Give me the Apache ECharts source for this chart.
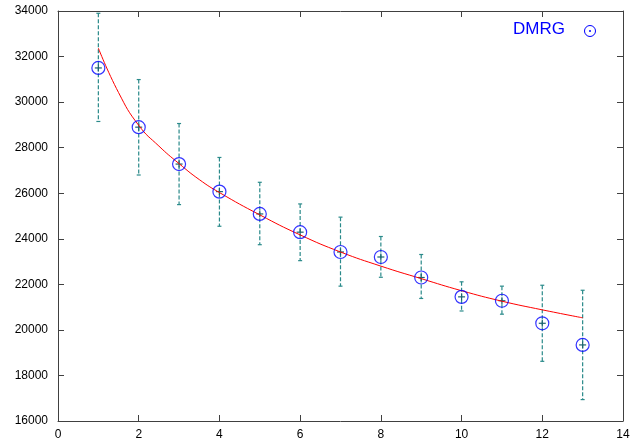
<!DOCTYPE html>
<html>
<head>
<meta charset="utf-8">
<script src="https://cdn.jsdelivr.net/npm/echarts@6/dist/echarts.min.js"></script>
<style>
  html, body { margin: 0; padding: 0; background: #fff; }
  #chart { width: 633px; height: 441px; }
</style>
</head>
<body>
<div id="chart"></div>
<script>
// data
const xs = [1, 2, 3, 4, 5, 6, 7, 8, 9, 10, 11, 12, 13];
const dmrg = [31500, 28900, 27280, 26070, 25090, 24290, 23420, 23200, 22300, 21450, 21280, 20290, 19340];
const errHigh = [33900, 30990, 29060, 27570, 26480, 25530, 24950, 24100, 23310, 22110, 21920, 21960, 21740];
const errLow = [29150, 26800, 25500, 24550, 23740, 23040, 21920, 22310, 21380, 20830, 20690, 18620, 16940];
// red fit curve, read at these x positions
const fitX = [1, 1.5, 2, 2.5, 3, 3.5, 4, 5, 6, 7, 8, 9, 10, 11, 12, 13];
const fitY = [32370, 30420, 28980, 28070, 27300, 26600, 26030, 25050, 24170, 23420, 22800, 22250, 21720, 21260, 20880, 20530];
const xTicks = [0, 2, 4, 6, 8, 10, 12, 14];
const yTicks = [16000, 18000, 20000, 22000, 24000, 26000, 28000, 30000, 32000, 34000];

document.addEventListener('DOMContentLoaded', function() {
  const chart = echarts.init(document.getElementById('chart'));
  const errColor = '#2a8a8a';
  const axisCol = '#404040';
  const labelFont = { color: '#000', fontSize: 12, fontFamily: 'Liberation Sans' };

  const errData = xs.map(function(x, i) { return [x, errLow[i], errHigh[i], dmrg[i]]; });

  const baseAxis = {
    type: 'value',
    axisLine: { show: true, onZero: false, lineStyle: { color: axisCol, width: 1 } },
    axisTick: { show: true, inside: true, length: 6, lineStyle: { color: axisCol } },
    splitLine: { show: false }
  };

  const option = {
    animation: false,
    backgroundColor: '#fff',
    grid: { left: 58, right: 10, top: 11, bottom: 18 },
    xAxis: [
      Object.assign({}, baseAxis, {
        min: xTicks[0], max: xTicks[xTicks.length - 1], interval: 2, position: 'bottom',
        axisLabel: Object.assign({ margin: 8 }, labelFont)
      }),
      Object.assign({}, baseAxis, {
        min: xTicks[0], max: xTicks[xTicks.length - 1], interval: 2, position: 'top',
        axisLabel: { show: false }
      })
    ],
    yAxis: [
      Object.assign({}, baseAxis, {
        min: yTicks[0], max: yTicks[yTicks.length - 1], interval: 2000, position: 'left',
        axisLabel: Object.assign({ margin: 10, formatter: function(v) { return String(v); } }, labelFont)
      }),
      Object.assign({}, baseAxis, {
        min: yTicks[0], max: yTicks[yTicks.length - 1], interval: 2000, position: 'right',
        axisLabel: { show: false }
      })
    ],
    graphic: [
      { type: 'text', right: 633 - 565, top: 21,
        style: { text: 'DMRG', fill: '#0000ff', fontSize: 17, fontFamily: 'Liberation Sans' } },
      { type: 'circle', shape: { cx: 590, cy: 31, r: 5.5 },
        style: { fill: 'none', stroke: '#0000ff', lineWidth: 1 } },
      { type: 'circle', shape: { cx: 590, cy: 31, r: 1 },
        style: { fill: '#0000ff' } }
    ],
    series: [
      {
        name: 'errors',
        type: 'custom',
        data: errData,
        z: 2,
        renderItem: function(params, api) {
          const lo = api.coord([api.value(0), api.value(1)]);
          const hi = api.coord([api.value(0), api.value(2)]);
          const c = api.coord([api.value(0), api.value(3)]);
          const cap = 2;
          const ps = 3.5;
          return {
            type: 'group',
            children: [
              { type: 'line', shape: { x1: hi[0], y1: hi[1], x2: lo[0], y2: lo[1] },
                style: { stroke: errColor, lineWidth: 1.2, lineDash: [4, 2] } },
              { type: 'line', shape: { x1: hi[0] - cap, y1: hi[1], x2: hi[0] + cap, y2: hi[1] },
                style: { stroke: errColor, lineWidth: 1.2 } },
              { type: 'line', shape: { x1: lo[0] - cap, y1: lo[1], x2: lo[0] + cap, y2: lo[1] },
                style: { stroke: errColor, lineWidth: 1.2 } },
              { type: 'line', shape: { x1: c[0] - ps, y1: c[1], x2: c[0] + ps, y2: c[1] },
                style: { stroke: '#1d6470', lineWidth: 1.2 } },
              { type: 'line', shape: { x1: c[0], y1: c[1] - ps, x2: c[0], y2: c[1] + ps },
                style: { stroke: '#1d6470', lineWidth: 1.2 } }
            ]
          };
        }
      },
      {
        name: 'fit',
        type: 'line',
        data: fitX.map(function(x, i) { return [x, fitY[i]]; }),
        smooth: true,
        showSymbol: false,
        symbol: 'none',
        z: 3,
        lineStyle: { color: '#ff0000', width: 1 }
      },
      {
        name: 'DMRG',
        type: 'scatter',
        data: xs.map(function(x, i) { return [x, dmrg[i]]; }),
        symbol: 'circle',
        symbolSize: 13,
        z: 4,
        itemStyle: { color: 'rgba(0,0,0,0)', borderColor: '#0000ff', borderWidth: 1.2 }
      }
    ]
  };
  chart.setOption(option);
  window.addEventListener('resize', function() { chart.resize(); });
});
</script>
</body>
</html>
